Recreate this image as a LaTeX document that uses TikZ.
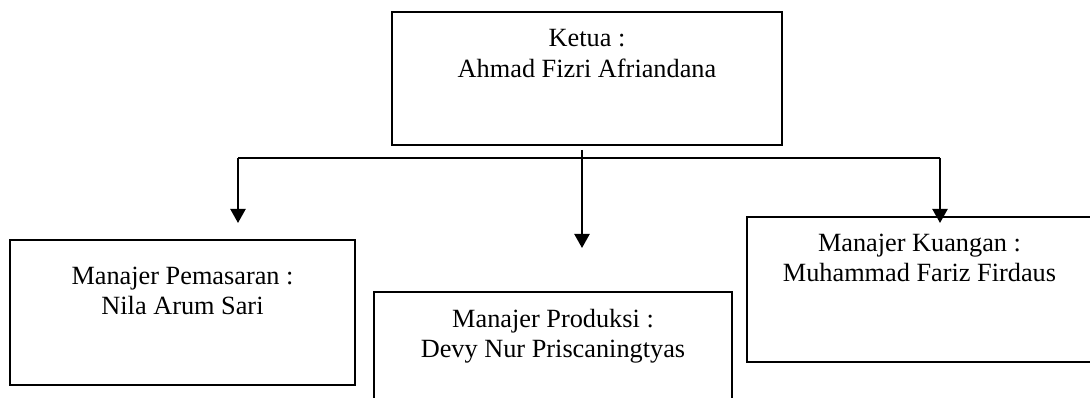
\documentclass[tikz,border=0pt]{standalone}
\usepackage{fontspec}
\setmainfont{Liberation Serif}
\usetikzlibrary{arrows.meta}
\tikzset{
  box/.style={draw=black, line width=2pt, inner sep=0pt, minimum width=345pt, minimum height=145pt},
  lbl/.style={align=center, inner sep=0pt, anchor=base, font=\fontsize{26.3}{30}\selectfont},
  conn/.style={draw=black, line width=2.2pt},
  arr/.style={conn, -{Triangle[width=15pt,length=14pt]}}
}
\begin{document}
\begin{tikzpicture}[x=1pt,y=-1pt]
\useasboundingbox (0,0) rectangle (1090,398);
\clip (0,0) rectangle (1090,398);
% boxes
\node[box, minimum width=390pt, minimum height=133pt] (ketua) at (587,78.5) {};
\node[box] (pemasaran) at (182.5,312.5) {};
\node[box, minimum width=358pt] (produksi) at (553,364.5) {};
\node[box] (kuangan) at (919.5,289.5) {};
% labels (anchor = baseline of the last line)
\node[lbl] (tketua) at ([yshift=-67pt]ketua.north) {Ketua :\\[1pt]Ahmad Fizri Afriandana};
\node[lbl] (tpemasaran) at ([yshift=-75pt]pemasaran.north) {Manajer Pemasaran :\\Nila Arum Sari};
\node[lbl] (tproduksi) at ([yshift=-66pt]produksi.north) {Manajer Produksi :\\Devy Nur Priscaningtyas};
\node[lbl] (tkuangan) at ([yshift=-66pt]kuangan.north) {Manajer Kuangan :\\Muhammad Fariz Firdaus};
% connector points
\coordinate (hl) at (238,158);
\coordinate (hr) at (940,158);
\coordinate (mtop) at (582,150);
\coordinate (tipL) at (238,223);
\coordinate (tipM) at (582,248);
\coordinate (tipR) at (940,223);
% connectors
\draw[conn] (hl) -- (hr);
\draw[arr] (hl) -- (tipL);
\draw[arr] (mtop) -- (tipM);
\draw[arr] (hr) -- (tipR);
\end{tikzpicture}
\end{document}
